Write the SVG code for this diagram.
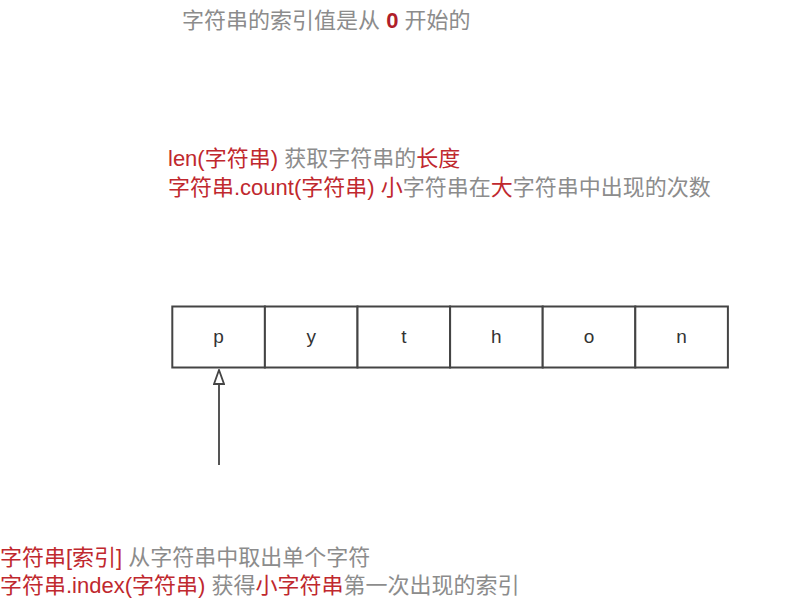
<svg xmlns="http://www.w3.org/2000/svg" width="802" height="610" viewBox="0 0 802 610">
<style>
  text { font-family: "Liberation Sans", "Noto Sans CJK SC", sans-serif; }
  .note { font-size: 22px; fill: #8c8c8c; }
  .red { fill: #c0282e; }
  .zero { fill: #b01e2a; font-weight: bold; }
  .cell rect { fill: #ffffff; stroke: #444444; stroke-width: 2; }
  .cell text { font-size: 19px; fill: #333333; text-anchor: middle; }
  .conn { stroke: #555555; stroke-width: 2; fill: none; }
</style>
<defs>
  <marker id="openArrow" markerUnits="userSpaceOnUse" markerWidth="16" markerHeight="12" viewBox="0 0 16 12" refX="15" refY="6" orient="auto">
    <path d="M1,1 L15,6 L1,11 Z" fill="#ffffff" stroke="#444444" stroke-width="1.8"/>
  </marker>
</defs>
<rect width="802" height="610" fill="#ffffff"/>

<g id="title">
  <text class="note" x="182" y="28">字符串的索引值是从 <tspan class="zero">0</tspan> 开始的</text>
</g>

<g id="notes-top">
  <text class="note" x="168" y="166"><tspan class="red">len(字符串)</tspan> 获取字符串的<tspan class="red">长度</tspan></text>
  <text class="note" x="168" y="195"><tspan class="red">字符串.count(字符串)</tspan> <tspan class="red">小</tspan>字符串在<tspan class="red">大</tspan>字符串中出现的次数</text>
</g>

<g id="cell-p" class="cell"><rect x="172.3" y="306.5" width="92.6" height="61"/><text x="218.6" y="343">p</text></g>
<g id="cell-y" class="cell"><rect x="264.9" y="306.5" width="92.6" height="61"/><text x="311.2" y="343">y</text></g>
<g id="cell-t" class="cell"><rect x="357.5" y="306.5" width="92.6" height="61"/><text x="403.8" y="343">t</text></g>
<g id="cell-h" class="cell"><rect x="450.1" y="306.5" width="92.6" height="61"/><text x="496.4" y="343">h</text></g>
<g id="cell-o" class="cell"><rect x="542.7" y="306.5" width="92.6" height="61"/><text x="589" y="343">o</text></g>
<g id="cell-n" class="cell"><rect x="635.3" y="306.5" width="92.6" height="61"/><text x="681.6" y="343">n</text></g>

<g id="connectors">
  <line class="conn" x1="219" y1="465" x2="219" y2="370" marker-end="url(#openArrow)"/>
</g>

<g id="notes-bottom">
  <text class="note" x="0" y="565"><tspan class="red">字符串[索引]</tspan> 从字符串中取出单个字符</text>
  <text class="note" x="0" y="593"><tspan class="red">字符串.index(字符串)</tspan> 获得<tspan class="red">小字符串</tspan>第一次出现的索引</text>
</g>
</svg>
